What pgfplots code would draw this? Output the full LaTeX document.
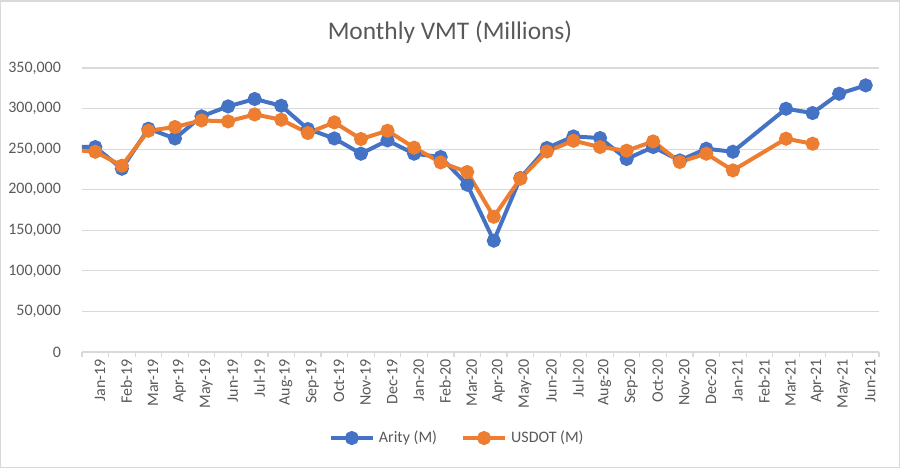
\documentclass[border=0pt]{standalone}
\usepackage{fontspec}
\setmainfont{Carlito}
\usepackage{pgfplots}
\pgfplotsset{compat=1.18}
\usepackage{pgfplotstable}

\definecolor{arity}{HTML}{4472C4}
\definecolor{usdot}{HTML}{ED7D31}
\definecolor{txt}{HTML}{595959}
\definecolor{gridc}{HTML}{D9D9D9}

% x = month index (0 = Jan-19 ... 29 = Jun-21); Feb-21 (25) missing
% x = -1 is the cut-off month before Jan-19 (only its segment shows)
\pgfplotstableread{
x y
-1 253000
0 252600
1 225900
2 275200
3 263200
4 290400
5 302700
6 311800
7 303500
8 274800
9 263200
10 244400
11 260800
12 244400
13 240300
14 206200
15 137200
16 214400
17 251400
18 265700
19 263700
20 237900
21 252600
22 236100
23 250500
24 246800
26 299800
27 294500
28 318300
29 328600
}\arity

\pgfplotstableread{
x y
-1 249500
0 246800
1 229600
2 272700
3 277300
4 285400
5 284200
6 292800
7 286300
8 269900
9 283000
10 262500
11 272700
12 251800
13 233700
14 221800
15 166700
16 213600
17 247200
18 260400
19 252600
20 248100
21 259500
22 234200
23 244400
24 223800
26 262900
27 256700
}\usdot

\begin{document}
\begin{tikzpicture}
\useasboundingbox (-41pt,-58pt) rectangle (409pt,176pt);
\draw[gridc, line width=0.7pt] (-40.6pt,-57.6pt) rectangle (408.6pt,175.6pt);
\node[text=txt, font=\fontsize{12.7}{15}\selectfont] at (184pt,160pt) {Monthly VMT (Millions)};
\begin{axis}[
    at={(0pt,0pt)}, anchor=south west,
    scale only axis,
    width=398.5pt, height=142pt,
    xmin=-0.5, xmax=29.5,
    ymin=0, ymax=350000,
    ytick={0,50000,...,350000},
    xtick={0,...,29},
    xticklabels={Jan-19,Feb-19,Mar-19,Apr-19,May-19,Jun-19,Jul-19,Aug-19,Sep-19,Oct-19,Nov-19,Dec-19,Jan-20,Feb-20,Mar-20,Apr-20,May-20,Jun-20,Jul-20,Aug-20,Sep-20,Oct-20,Nov-20,Dec-20,Jan-21,Feb-21,Mar-21,Apr-21,May-21,Jun-21},
    minor xtick={-0.5,0.5,...,29.5},
    axis x line*=bottom, axis y line*=left,
    x axis line style={draw=gridc, line width=0.6pt, -},
    y axis line style={draw=none},
    major tick length=0pt,
    minor tick length=2.5pt,
    xtick align=outside,
    minor tick style={draw=gridc, line width=0.6pt},
    ymajorgrids,
    grid style={draw=gridc, line width=0.6pt},
    scaled y ticks=false,
    /pgf/number format/.cd, fixed, 1000 sep={,}, assume math mode=true,
    /pgfplots/.cd,
    tick label style={text=txt, font=\fontsize{8}{9.6}\selectfont},
    yticklabel style={anchor=east, xshift=-7pt},
    xticklabel style={rotate=90, anchor=east, yshift=-2.3pt},
    legend style={at={(0.472,-0.303)}, anchor=center, draw=none, fill=none,
        legend columns=2, text=txt, font=\fontsize{8}{9.6}\selectfont,
        /tikz/every even column/.append style={column sep=10pt}},
    legend image code/.code={\draw[mark repeat=2,mark phase=2,#1] plot coordinates {(0cm,0cm)(0.37cm,0cm)(0.74cm,0cm)};},
]
\addplot[arity, line width=2pt, mark=*, mark size=2.5pt, mark options={solid}] table[x=x,y=y] {\arity};
\addlegendentry{Arity (M)}
\addplot[usdot, line width=2pt, mark=*, mark size=2.5pt, mark options={solid}] table[x=x,y=y] {\usdot};
\addlegendentry{USDOT (M)}
\end{axis}
\end{tikzpicture}
\end{document}
